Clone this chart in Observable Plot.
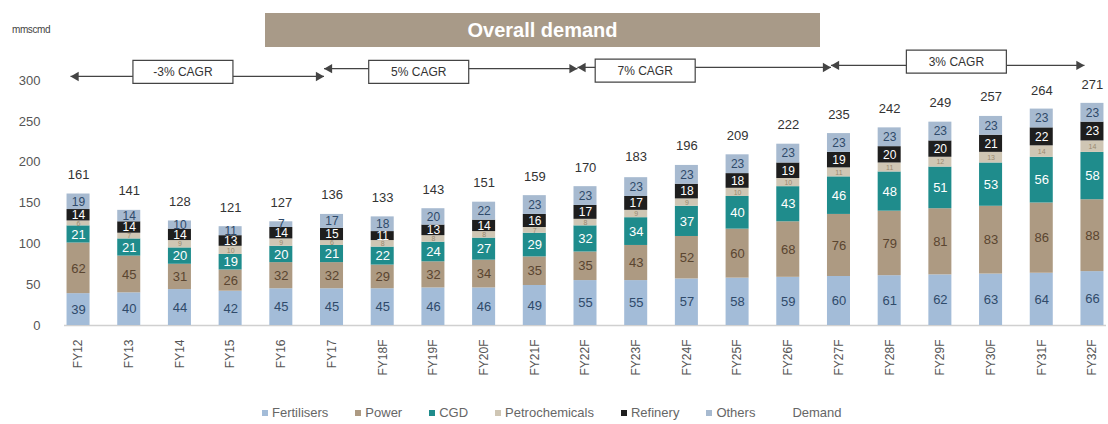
<!DOCTYPE html>
<html>
<head>
<meta charset="utf-8">
<script src="https://cdn.jsdelivr.net/npm/d3@7"></script>
<script src="https://cdn.jsdelivr.net/npm/@observablehq/plot@0.6"></script>
<style>
  body { margin: 0; background: #fff; font-family: "Liberation Sans", Arial, sans-serif; }
  #wrap { position: relative; width: 1108px; height: 424px; overflow: hidden; }
  #chart { position: absolute; left: 0; top: 0; }
  #unit { position: absolute; left: 12px; top: 24px; font-size: 10px; color: #444; letter-spacing: -0.4px; }
  #title { position: absolute; left: 265px; top: 13px; width: 555px; height: 34px; background: #a89a88;
           color: #fff; font-size: 20px; font-weight: bold; display: flex; align-items: center; justify-content: center; }
  #legend { position: absolute; left: 262px; top: 405px; display: flex; gap: 27px; font-size: 13px; color: #666; }
  #legend .item { display: flex; align-items: center; }
  #legend .sw { width: 6px; height: 6px; margin-right: 4px; }
</style>
</head>
<body>
<div id="wrap">
  <div id="chart"></div>
  <div id="unit">mmscmd</div>
  <div id="title">Overall demand</div>
  <div id="legend"></div>
</div>
<script>
// ---------------- data ----------------
const years = ["FY12","FY13","FY14","FY15","FY16","FY17","FY18F","FY19F","FY20F","FY21F","FY22F",
               "FY23F","FY24F","FY25F","FY26F","FY27F","FY28F","FY29F","FY30F","FY31F","FY32F"];
const fertilisers    = [39,40,44,42,45,45,45,46,46,49,55,55,57,58,59,60,61,62,63,64,66];
const power          = [62,45,31,26,32,32,29,32,34,35,35,43,52,60,68,76,79,81,83,86,88];
const cgd            = [21,21,20,19,20,21,22,24,27,29,32,34,37,40,43,46,48,51,53,56,58];
const petrochemicals = [6,7,9,10,9,6,8,8,8,7,8,9,9,10,10,11,11,12,13,14,14];
const refinery       = [14,14,14,13,14,15,11,13,14,16,17,17,18,18,19,19,20,20,21,22,23];
const others         = [19,14,10,11,7,17,18,20,22,23,23,23,23,23,23,23,23,23,23,23,23];
const demand         = [161,141,128,121,127,136,133,143,151,159,170,183,196,209,222,235,242,249,257,264,271];
const seriesNames    = ["Fertilisers","Power","CGD","Petrochemicals","Refinery","Others"];
const yTicks         = [0,50,100,150,200,250,300];
const cagr = [
  {from: "FY12",  to: "FY17",  label: "-3% CAGR", at: "FY14"},
  {from: "FY17",  to: "FY22F", label: "5% CAGR",  at: "FY18F"},
  {from: "FY22F", to: "FY27F", label: "7% CAGR",  at: "FY23F"},
  {from: "FY27F", to: "FY32F", label: "3% CAGR",  at: "FY29F"}
];

// ---------------- styles ----------------
const seriesValues = [fertilisers, power, cgd, petrochemicals, refinery, others];
const colors     = ["#a3bcd8", "#ad9a82", "#1f8c8c", "#cfc6b4", "#1e1e1e", "#a7bad0"];
const textColors = ["#2f4a6a", "#5a4530", "#ffffff", "#9a8a70", "#ffffff", "#2f4a6a"];
const textSizes  = [13, 13, 13, 7, 12, 12];

const rows = [];
years.forEach((yr, i) => seriesNames.forEach((s, k) => rows.push({year: yr, series: s, value: seriesValues[k][i]})));
const totals = years.map((yr, i) => ({year: yr, demand: demand[i]}));

const labelMarks = seriesNames.map((s, k) =>
  Plot.text(rows, Plot.stackY({
    x: "year", y: "value", z: "series", order: null,
    text: d => d.series === s ? String(d.value) : null,
    fill: textColors[k], fontSize: textSizes[k]
  }))
);

// annotation layout (pixel-tuned)
const arrowY = [305, 314.5, 316, 318.5];
const boxY   = [310.5, 310.5, 312, 323];
const boxDx  = [3, 36, 9, 16];
const boxSymbol = {
  draw(ctx) { ctx.moveTo(-50, -11.5); ctx.lineTo(50, -11.5); ctx.lineTo(50, 11.5); ctx.lineTo(-50, 11.5); ctx.closePath(); }
};
const cagrMarks = [];
cagr.forEach((c, i) => {
  const d = [c];
  cagrMarks.push(
    Plot.link(d, {x1: "from", x2: "to", y1: () => arrowY[i], y2: () => arrowY[i], dx: -8, stroke: "#444", strokeWidth: 1.3}),
    Plot.dot(d, {x: "to", y: () => arrowY[i], symbol: "triangle", rotate: 90, r: 3.5, fill: "#444", stroke: "none", dx: -13.4}),
    Plot.dot(d, {x: "from", y: () => arrowY[i], symbol: "triangle", rotate: -90, r: 3.5, fill: "#444", stroke: "none", dx: -2.6}),
    Plot.dot(d, {x: "at", y: () => boxY[i], symbol: boxSymbol, fill: "white", stroke: "#444", strokeWidth: 1.2, dx: boxDx[i]}),
    Plot.text(d, {x: "at", y: () => boxY[i], text: "label", dx: boxDx[i], fontSize: 12, fill: "#333"})
  );
});

const chart = Plot.plot({
  width: 1108, height: 395,
  marginTop: 80, marginBottom: 70, marginLeft: 64, marginRight: 2,
  style: {fontFamily: '"Liberation Sans", Arial, sans-serif', background: "transparent"},
  x: {domain: years, paddingInner: 0.546, paddingOuter: 0.05, round: false},
  y: {domain: [0, 300]},
  color: {domain: seriesNames, range: colors},
  marks: [
    Plot.axisY({ticks: yTicks, tickSize: 0, tickPadding: 24, fontSize: 13, fill: "#555", label: null}),
    Plot.axisX({tickRotate: -90, tickSize: 0, tickPadding: 14, fontSize: 12, fill: "#555", label: null}),
    Plot.ruleY([0], {stroke: "#d0d0d0", strokeWidth: 1.5}),
    Plot.barY(rows, {x: "year", y: "value", fill: "series", z: "series", order: null}),
    ...labelMarks,
    Plot.text(totals, {x: "year", y: "demand", text: d => String(d.demand), lineAnchor: "bottom", dy: -15, fontSize: 13, fill: "#333"}),
    ...cagrMarks
  ]
});
document.getElementById("chart").appendChild(chart);

// legend
const legend = document.getElementById("legend");
seriesNames.concat(["Demand"]).forEach((s, k) => {
  const item = document.createElement("div");
  item.className = "item";
  const sw = document.createElement("span");
  sw.className = "sw";
  sw.style.background = k < colors.length ? colors[k] : "transparent";
  item.appendChild(sw);
  const t = document.createElement("span");
  t.textContent = s;
  item.appendChild(t);
  legend.appendChild(item);
});
</script>
</body>
</html>
